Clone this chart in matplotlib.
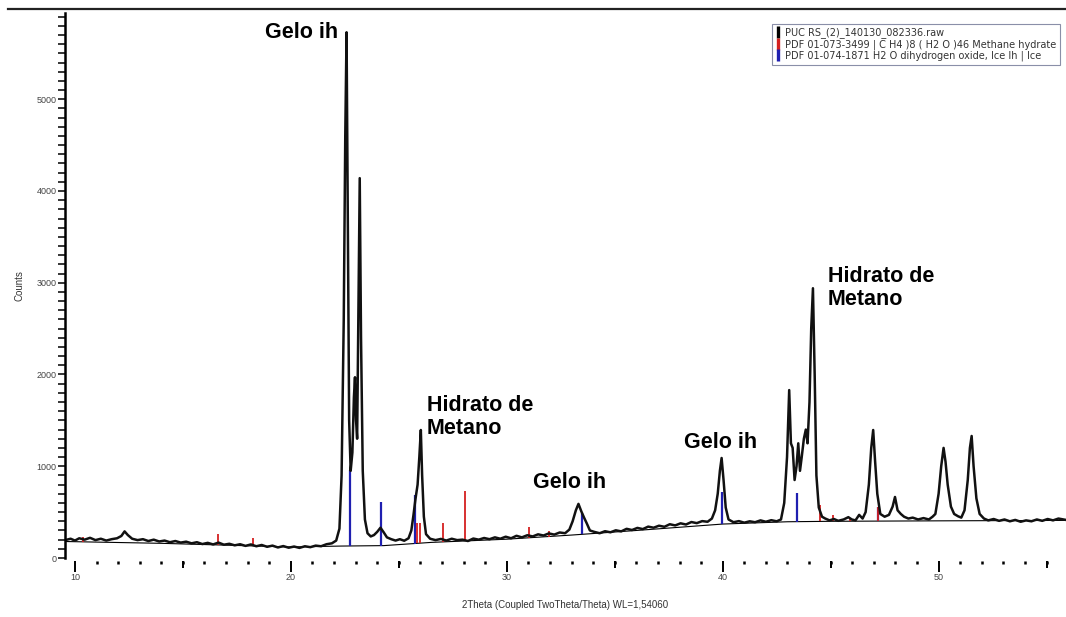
import numpy as np
import matplotlib.pyplot as plt
from matplotlib.lines import Line2D
from matplotlib.ticker import MultipleLocator, FixedLocator, NullFormatter

plt.rcParams['font.family'] = ['Liberation Sans', 'DejaVu Sans']

two_theta = [
    9.55, 9.8, 10.0, 10.2, 10.45, 10.7, 10.95, 11.2, 11.45, 11.7, 11.95, 12.15, 12.3, 12.45,
    12.65, 12.9, 13.15, 13.4, 13.65, 13.9, 14.15, 14.4, 14.65, 14.9, 15.15, 15.4, 15.65, 15.9,
    16.15, 16.4, 16.65, 16.9, 17.15, 17.4, 17.65, 17.9, 18.15, 18.4, 18.65, 18.9, 19.15, 19.4,
    19.65, 19.9, 20.15, 20.4, 20.65, 20.9, 21.15, 21.4, 21.65, 21.9, 22.1, 22.25,
    22.35, 22.45, 22.52, 22.58, 22.64, 22.7, 22.77, 22.85, 22.92, 22.97, 23.02, 23.07, 23.13,
    23.19, 23.25, 23.33, 23.43, 23.55, 23.7, 23.85, 24.0, 24.15, 24.3, 24.45, 24.65, 24.85,
    25.05, 25.25, 25.45, 25.58, 25.68, 25.77, 25.87, 25.95, 26.02, 26.08, 26.16, 26.26, 26.45,
    26.7, 26.95, 27.2, 27.45, 27.7, 27.95, 28.2, 28.45, 28.7, 28.95, 29.2, 29.45, 29.7, 29.95,
    30.2, 30.45, 30.7, 30.95, 31.2, 31.45, 31.7, 31.95, 32.2, 32.45, 32.7, 32.9, 33.05, 33.2,
    33.32, 33.45, 33.58, 33.7, 33.85, 34.05, 34.3, 34.55, 34.8, 35.05, 35.3, 35.55, 35.8,
    36.05, 36.3, 36.55, 36.8, 37.05, 37.3, 37.55, 37.8, 38.05, 38.3, 38.55, 38.8, 39.05, 39.3,
    39.5, 39.65, 39.77, 39.87, 39.95, 40.04, 40.14, 40.27, 40.5, 40.75, 41.0, 41.25, 41.5,
    41.75, 42.0, 42.25, 42.5, 42.7, 42.85, 42.98, 43.08, 43.16, 43.24, 43.33, 43.42, 43.5,
    43.58, 43.66, 43.76, 43.85, 43.93, 44.02, 44.1, 44.18, 44.26, 44.34, 44.45, 44.6, 44.75,
    44.95, 45.15, 45.35, 45.6, 45.82, 45.98, 46.15, 46.32, 46.48, 46.62, 46.77, 46.88, 46.97,
    47.06, 47.16, 47.3, 47.5, 47.7, 47.87, 47.98, 48.1, 48.25, 48.4, 48.6, 48.8, 49.05, 49.3,
    49.55, 49.72, 49.85, 50.0, 50.12, 50.23, 50.32, 50.42, 50.57, 50.72, 50.9, 51.05, 51.2,
    51.35, 51.45, 51.53, 51.62, 51.75, 51.9, 52.1, 52.3, 52.55, 52.8, 53.05, 53.3, 53.55,
    53.8, 54.05, 54.3, 54.55, 54.8, 55.05, 55.3, 55.55, 55.9,
]
counts = [
    195, 210, 190, 215, 200, 220, 195, 210, 190, 205, 215, 240, 290, 250,
    210, 195, 205, 185, 200, 180, 190, 172, 185, 168, 178, 160, 172, 152,
    165, 148, 168, 145, 155, 138, 150, 132, 148, 128, 142, 122, 135, 115,
    130, 112, 125, 110, 128, 118, 135, 128, 150, 160, 190, 320,
    900, 2600, 4600, 5730, 3600, 1500, 950, 1150, 1750, 1970, 1500, 1300, 2700,
    4140, 2400, 950, 420, 270, 235, 250, 285, 330, 280, 225, 205, 190,
    205, 188, 215, 300, 470, 640, 800, 1100, 1395, 900, 450, 260, 210,
    195, 208, 190, 210, 195, 200, 185, 212, 200, 218, 205, 225, 210, 232,
    215, 242, 225, 248, 235, 258, 245, 268, 255, 278, 270, 310, 400, 520,
    590, 510, 440, 380, 300, 285, 270, 292, 280, 302, 290, 318, 305,
    328, 315, 342, 330, 352, 340, 368, 355, 378, 365, 392, 380, 402, 395,
    430, 520, 700, 950, 1090, 850, 550, 420, 390, 402, 385, 400, 390,
    410, 395, 412, 400, 420, 600, 1100, 1830, 1250, 1200, 850, 1000, 1250,
    950, 1100, 1300, 1400, 1250, 1700, 2500, 2940, 2000, 900, 550, 450, 430,
    410, 425, 405, 420, 445, 420, 410, 470, 430, 500, 800, 1200, 1395,
    1050, 700, 480, 450, 470, 560, 665, 520, 480, 450, 430, 440, 420, 435,
    420, 450, 480, 700, 1000, 1200, 1050, 800, 560, 480, 455, 440, 520,
    850, 1200, 1330, 1000, 650, 480, 430, 410, 425, 405, 420, 400, 415,
    395, 410, 400, 420, 405, 425, 410, 430, 415,
]

# fitted background
bg_2theta = [9.5, 14, 20, 22.3, 24.3, 26.5, 30, 33, 36, 40, 43, 45, 50, 56]
bg_counts = [180, 160, 120, 130, 135, 170, 205, 250, 300, 370, 395, 400, 405, 410]

# reference patterns (stick tops in counts)
hydrate_2theta = [10.37, 16.62, 18.24, 25.83, 25.97, 27.04, 28.06, 31.02, 31.94,
                  44.49, 45.09, 45.88, 47.2]
hydrate_top = [230, 260, 220, 380, 380, 380, 730, 340, 295, 580, 470, 435, 555]

ice_2theta = [22.73, 24.17, 25.74, 33.47, 39.95, 43.43, 47.18]
ice_top = [960, 610, 690, 490, 720, 710, 555]

legend_labels = [
    "PUC RS_(2)_140130_082336.raw",
    "PDF 01-073-3499 | C H4 )8 ( H2 O )46 Methane hydrate",
    "PDF 01-074-1871 H2 O dihydrogen oxide, Ice Ih | Ice",
]

fig = plt.figure(figsize=(10.66, 6.17), dpi=100)
ax = fig.add_axes([65 / 1066, 1 - 558 / 617, 1 - 65 / 1066, (558 - 13) / 617])

ax.plot(bg_2theta, bg_counts, color='black', lw=0.8)

ice_base = np.interp(ice_2theta, bg_2theta, bg_counts)
ax.vlines(ice_2theta, ice_base, ice_top, color='#1f1fb0', lw=1.6)
hyd_base = np.interp(hydrate_2theta, bg_2theta, bg_counts)
ax.vlines(hydrate_2theta, hyd_base, hydrate_top, color='#d42020', lw=1.3)

ax.plot(two_theta, counts, color='#111111', lw=1.8)

ax.set_xlim(9.54, 55.9)
ax.set_ylim(0, 5940)

for side in ['top', 'right']:
    ax.spines[side].set_visible(False)
ax.spines['bottom'].set_position(('outward', 2))
ax.spines['bottom'].set_visible(False)
ax.spines['left'].set_linewidth(1.8)

ax.xaxis.set_major_locator(MultipleLocator(10))
ax.xaxis.set_minor_locator(MultipleLocator(1))
ax.tick_params(axis='x', which='major', length=8, width=1.4, labelsize=6.5,
               labelcolor='#444444', pad=1)
ax.tick_params(axis='x', which='minor', length=2.5, width=1.8)

ax.yaxis.set_major_locator(MultipleLocator(1000))
ax.yaxis.set_minor_locator(MultipleLocator(100))
ax.tick_params(axis='y', which='both', length=5, width=1.1, labelsize=6.5,
               labelcolor='#444444', pad=1)

# medium ticks at the fives
sec = ax.secondary_xaxis('bottom')
sec.spines['bottom'].set_position(('outward', 2))
sec.spines['bottom'].set_visible(False)
sec.xaxis.set_major_locator(FixedLocator([15, 25, 35, 45, 55]))
sec.xaxis.set_major_formatter(NullFormatter())
sec.tick_params(axis='x', which='major', length=5, width=1.4)
sec.tick_params(axis='x', which='minor', length=0)

ax.set_xlabel('2Theta (Coupled TwoTheta/Theta) WL=1,54060', fontsize=7,
              color='#333333', labelpad=13)
ax.set_ylabel('Counts', fontsize=7, color='#333333', labelpad=9)

ann_kw = dict(fontsize=15.5, fontweight='bold', va='center', linespacing=1.1)
ax.text(22.2, 5730, 'Gelo ih', ha='right', **ann_kw)
ax.text(26.3, 1537, 'Hidrato de\nMetano', ha='left', **ann_kw)
ax.text(31.2, 818, 'Gelo ih', ha='left', **ann_kw)
ax.text(38.2, 1264, 'Gelo ih', ha='left', **ann_kw)
ax.text(44.86, 2943, 'Hidrato de\nMetano', ha='left', **ann_kw)

handles = [Line2D([], [], color=c, marker='|', linestyle='None', markersize=8,
                  markeredgewidth=2.4) for c in ['black', '#d42020', '#1f1fb0']]
leg = fig.legend(handles, legend_labels, loc='upper right',
                 bbox_to_anchor=(1060 / 1066, 1 - 24 / 617),
                 prop={'family': 'DejaVu Sans', 'size': 7},
                 frameon=True, fancybox=False, framealpha=1, edgecolor='#8a8fa8',
                 handlelength=0.5, handletextpad=0.5, borderpad=0.35,
                 labelspacing=0.1, borderaxespad=0)
leg.get_frame().set_linewidth(0.8)
for t in leg.get_texts():
    t.set_color('#333333')

fig.add_artist(Line2D([8 / 1066, 1], [1 - 9 / 617, 1 - 9 / 617], color='#222222', lw=1.6))

fig.savefig('out.png', dpi=100)
